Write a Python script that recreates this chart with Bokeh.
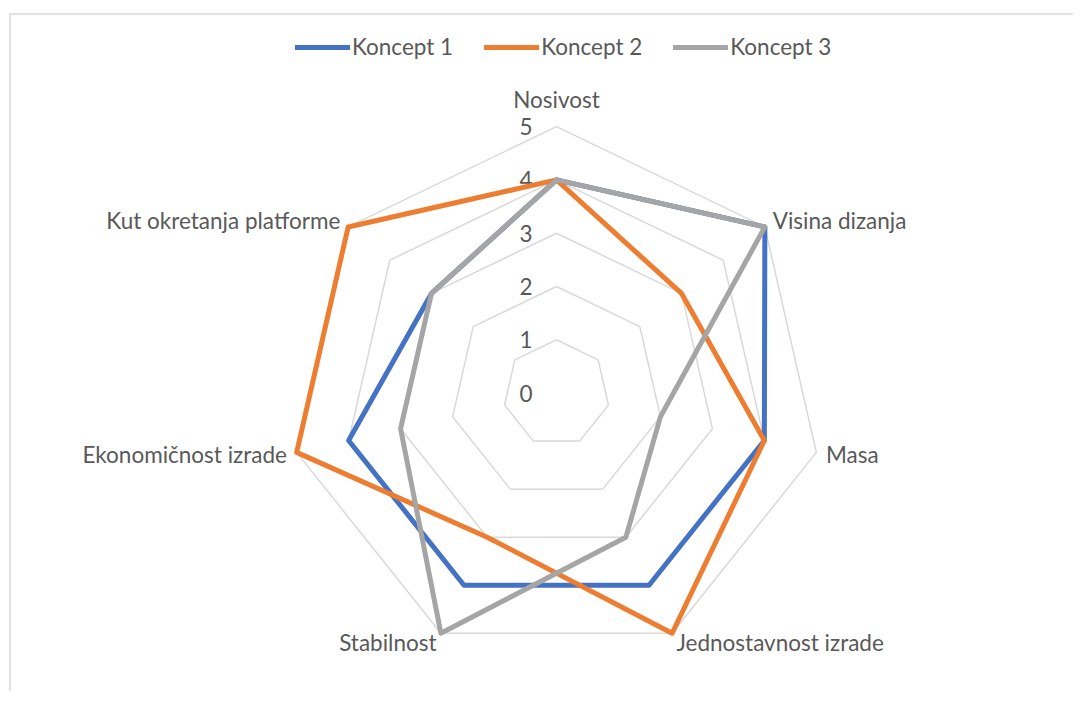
import math
from bokeh.plotting import figure
from bokeh.models import Range1d, Legend, LegendItem
from bokeh.core.properties import value
from bokeh.embed import file_html
from bokeh.resources import INLINE

categories = ["Nosivost", "Visina dizanja", "Masa", "Jednostavnost izrade",
              "Stabilnost", "Ekonomičnost izrade", "Kut okretanja platforme"]
koncept1 = [4, 5, 4, 4, 4, 4, 3]
koncept2 = [4, 3, 4, 5, 3, 5, 5]
koncept3 = [4, 5, 2, 3, 5, 3, 3]
series_names = ["Koncept 1", "Koncept 2", "Koncept 3"]
series_colors = ["#4472C4", "#ED7D31", "#A5A5A5"]
levels = [0, 1, 2, 3, 4, 5]

FONT = "Lato"
FS = "22.5px"
TXT = "#595959"

W, H = 1073, 691
PX = 53.3            # pixels per rating unit
CX, CY = 556, 392.6  # centre inside frame (px)

n = len(categories)
ang = [2 * math.pi * i / n for i in range(n)]

p = figure(width=W, height=H, output_backend="svg", toolbar_location=None,
           x_range=Range1d(-CX / PX, (W - CX) / PX),
           y_range=Range1d(-(H - CY) / PX, CY / PX),
           min_border=0)
p.axis.visible = False
p.grid.visible = False
p.outline_line_color = None
p.background_fill_color = "white"

# chart border (left and top visible)
bx = (9.5 - CX) / PX
by = (CY - 13.5) / PX
p.line([bx, bx, (W - CX) / PX + 1], [-(H - CY) / PX - 1, by, by],
       line_color="#d9d9d9", line_width=1.5)

def pts(vals):
    xs = [v * math.sin(a) for v, a in zip(vals, ang)]
    ys = [v * math.cos(a) for v, a in zip(vals, ang)]
    return xs + xs[:1], ys + ys[:1]

# grid rings
gx, gy = [], []
for lv in levels[1:]:
    xs, ys = pts([lv] * n)
    gx.append(xs); gy.append(ys)
p.multi_line(gx, gy, line_color="#d9d9d9", line_width=1.5)

# level labels
p.text(x=[-0.45] * len(levels), y=levels, text=[str(l) for l in levels],
       text_align="right", text_baseline="middle", text_color=TXT,
       text_font=value(FONT), text_font_size=FS)

# category labels
lx, ly, la = [], [], []
for c, a in zip(categories, ang):
    s, co = math.sin(a), math.cos(a)
    off = 10 / PX
    if abs(s) < 1e-6:
        off = 27 / PX
        al = "center"
    elif s > 0:
        al = "left"
    else:
        al = "right"
    lx.append((5 + off) * s)
    ly.append((5 + off) * co)
    la.append(al)
for x, y, t, al in zip(lx, ly, categories, la):
    p.text(x=[x], y=[y], text=[t], text_align=al, text_baseline="middle",
           text_color=TXT, text_font=value(FONT), text_font_size=FS)

items = []
for name, vals, col in zip(series_names, [koncept1, koncept2, koncept3], series_colors):
    xs, ys = pts(vals)
    r = p.line(xs, ys, line_color=col, line_width=5, line_join="round", line_cap="round")
    items.append(LegendItem(label=name, renderers=[r]))

legend = Legend(items=items, orientation="horizontal", location=(295, 631),
                glyph_width=55, glyph_height=24, label_height=24, label_standoff=2,
                spacing=31, padding=0, margin=0, border_line_color=None,
                background_fill_alpha=0, label_text_font=FONT,
                label_text_font_size=FS, label_text_color=TXT)
p.add_layout(legend, "center")

open("out.html", "w").write(file_html(p, INLINE))
